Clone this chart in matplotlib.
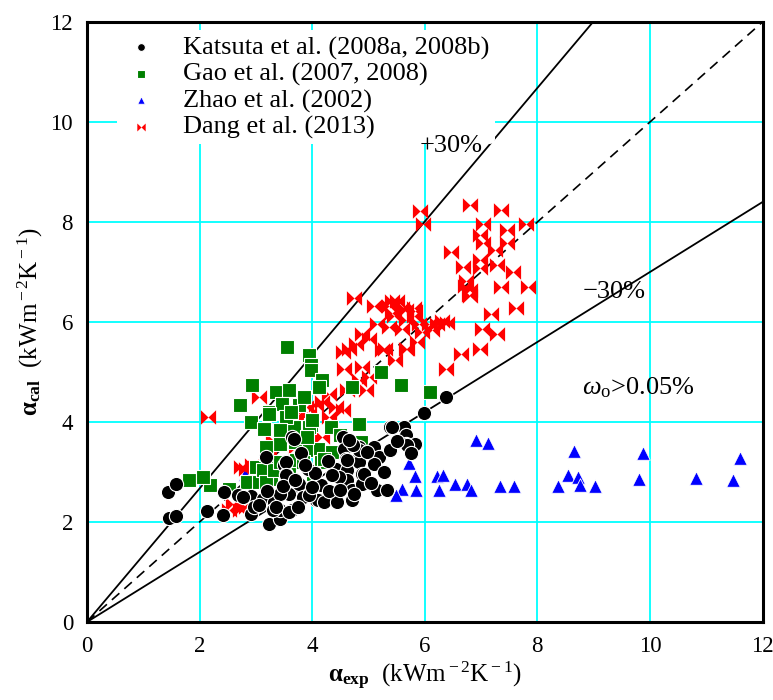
import numpy as np
import matplotlib
matplotlib.use('Agg')
import matplotlib.pyplot as plt
from matplotlib.path import Path

plt.rcParams['font.family'] = ['Liberation Serif', 'DejaVu Serif']
plt.rcParams['mathtext.fontset'] = 'custom'
plt.rcParams['mathtext.rm'] = 'Liberation Serif'
plt.rcParams['mathtext.it'] = 'Liberation Serif:italic'
plt.rcParams['mathtext.bf'] = 'Liberation Serif:bold'

# Katsuta et al. (2008a, 2008b)
kat_x = [1.44, 1.59, 1.46, 1.58, 2.13, 2.44, 2.42, 2.68, 2.91, 2.91, 3.12, 3.18, 3.24, 3.33,
         3.42, 3.42, 3.50, 3.53, 3.59, 3.65, 3.68, 3.77, 3.80, 3.83, 3.92, 4.07, 4.15, 4.24,
         4.42, 4.42, 4.54, 4.57, 4.60, 4.62, 4.62, 4.71, 4.71, 4.83, 4.89, 4.89, 4.83, 5.10,
         5.19, 5.16, 5.33, 5.39, 5.63, 5.66, 5.66, 5.83, 5.98, 6.37, 3.68, 3.53, 3.53, 3.30,
         3.65, 3.42, 4.10, 4.21, 4.45, 4.62, 4.74, 4.83, 4.92, 5.10, 5.39, 5.42, 5.69, 2.97,
         3.05, 3.36, 3.58, 3.75, 3.95, 4.30, 4.48, 4.05, 4.28, 3.88, 3.48, 3.20, 2.78, 4.97,
         4.73, 5.05, 5.28, 4.35, 3.70, 4.00, 4.50, 4.65, 5.50, 5.75]
kat_y = [2.61, 2.77, 2.09, 2.12, 2.23, 2.61, 2.14, 2.54, 2.52, 2.17, 2.47, 3.31, 1.97, 2.41,
         2.07, 2.24, 3.14, 2.97, 2.57, 3.71, 2.27, 2.77, 3.39, 2.51, 3.07, 2.44, 2.74, 2.44,
         2.41, 3.07, 3.71, 3.47, 3.27, 3.04, 2.84, 2.64, 2.44, 3.21, 2.97, 2.77, 3.51, 3.51,
         3.31, 2.64, 2.65, 3.91, 3.91, 3.74, 3.57, 3.57, 4.19, 4.51, 3.67, 3.21, 2.94, 2.24,
         2.24, 2.57, 2.44, 2.41, 2.41, 3.24, 2.57, 3.44, 2.97, 3.17, 3.44, 3.91, 3.54, 2.30,
         2.35, 2.31, 2.20, 2.30, 2.55, 2.62, 2.90, 2.98, 3.22, 3.15, 2.72, 2.62, 2.50, 3.40,
         3.55, 2.78, 3.00, 2.95, 2.85, 2.70, 2.65, 3.65, 3.62, 3.38]

# Gao et al. (2007, 2008)
gao_x = [3.56, 3.95, 3.98, 3.98, 4.18, 2.94, 3.36, 3.59, 2.71, 2.91, 3.24, 3.47, 3.77, 4.12,
         4.71, 5.22, 5.57, 6.10, 3.68, 3.98, 4.33, 4.83, 3.45, 4.10, 4.36, 4.86, 4.15, 3.30,
         3.18, 1.82, 2.18, 2.06, 2.53, 2.85, 3.06, 3.27, 3.59, 3.71, 3.89, 3.00, 3.18, 3.53,
         3.24, 3.15, 3.42, 3.95, 3.42, 3.18, 4.21, 3.12, 3.18, 3.33, 3.83, 4.01, 3.42, 3.85,
         3.62, 4.00, 3.70, 3.90, 4.50]
gao_y = [5.51, 5.34, 5.14, 5.04, 4.84, 4.74, 4.61, 4.64, 4.34, 4.01, 4.21, 4.37, 4.34, 4.71,
         4.71, 5.01, 4.74, 4.61, 3.91, 3.94, 3.91, 3.97, 3.57, 3.47, 3.41, 3.61, 3.21, 3.17,
         3.01, 2.84, 2.74, 2.91, 2.67, 2.81, 2.81, 2.87, 2.97, 3.24, 3.44, 3.11, 3.37, 4.11,
         4.17, 3.87, 3.84, 3.91, 3.57, 3.51, 3.27, 3.04, 2.81, 3.04, 3.21, 2.97, 3.21, 4.50,
         4.20, 4.05, 3.60, 3.70, 3.75]

# Zhao et al. (2002)
zhao_x = [6.91, 7.12, 5.72, 5.83, 6.22, 6.32, 6.54, 6.75, 6.82, 5.60, 5.85, 5.49, 6.25, 7.34,
          7.58, 8.65, 8.55, 8.73, 8.37, 8.75, 9.02, 9.88, 9.81, 10.82, 11.48, 11.60, 2.80,
          3.95, 4.30, 4.33]
zhao_y = [3.64, 3.59, 3.19, 2.93, 2.93, 2.95, 2.76, 2.77, 2.64, 2.67, 2.64, 2.54, 2.64, 2.72,
          2.72, 3.42, 2.95, 2.91, 2.72, 2.74, 2.72, 3.39, 2.87, 2.89, 2.84, 3.29, 2.97,
          2.54, 2.61, 2.57]

# Dang et al. (2013)
dang_x = [5.92, 5.96, 6.80, 7.35, 7.03, 7.46, 7.80, 6.98, 7.04, 7.25, 7.46, 6.47, 6.98, 7.28,
          6.68, 6.98, 7.56, 6.74, 6.80, 6.80, 7.35, 7.84, 7.62, 7.17, 7.02, 7.29, 6.98, 6.65,
          6.37, 5.87, 5.69, 4.74, 5.10, 5.42, 5.60, 5.83, 5.42, 5.66, 6.07, 6.31, 5.16, 5.36,
          4.89, 5.01, 4.77, 4.54, 4.66, 5.24, 5.48, 4.57, 4.89, 5.01, 4.83, 4.62, 4.95, 4.30,
          4.07, 4.18, 4.42, 4.54, 3.89, 3.95, 4.30, 3.71, 2.15, 3.06, 3.30, 3.24, 3.71, 4.18,
          2.74, 2.83, 2.94, 2.59, 2.71, 2.83, 2.53, 2.77, 6.72, 6.78, 5.36, 5.51, 5.66, 5.81,
          5.45, 5.81, 5.89, 6.22, 6.40, 6.13, 5.95, 5.60, 5.66, 5.30]
dang_y = [8.21, 7.96, 8.34, 8.23, 7.95, 7.83, 7.96, 7.74, 7.57, 7.44, 7.57, 7.39, 7.24, 7.14,
          7.09, 7.07, 6.99, 6.82, 6.64, 6.51, 6.69, 6.69, 6.27, 6.16, 5.87, 5.76, 5.47, 5.37,
          5.07, 5.61, 5.47, 6.47, 6.31, 6.41, 6.27, 6.21, 6.17, 6.04, 5.97, 6.01, 5.97, 5.91,
          5.77, 5.67, 5.57, 5.41, 5.47, 5.44, 5.24, 5.07, 5.11, 4.91, 4.84, 4.64, 4.64, 4.57,
          4.34, 4.41, 4.31, 4.24, 4.31, 4.17, 4.11, 4.11, 4.11, 4.51, 3.64, 3.37, 3.51, 3.71,
          3.11, 3.07, 3.14, 2.37, 2.24, 2.31, 2.24, 2.44, 6.71, 6.54, 6.31, 6.41, 6.24, 6.27,
          6.11, 6.11, 5.97, 5.97, 5.99, 5.84, 5.81, 5.87, 5.47, 5.47]

# marker "bowtie"
bowtie = Path([(-1, 0.95), (0, 0), (1, 0.95), (1, -0.95), (0, 0), (-1, -0.95), (-1, 0.95)],
              [Path.MOVETO] + [Path.LINETO] * 5 + [Path.CLOSEPOLY])

fig = plt.figure(figsize=(7.73, 7.0), dpi=100)
ax = fig.add_axes([0.1125, 0.1114, 0.874, 0.8572])

ax.grid(True, color='#00FFFF', linewidth=1.3)
ax.set_axisbelow(True)

# referencni primky
xl = np.array([0, 12])
ax.plot(xl, 1.335 * xl, color='k', linewidth=1.3, zorder=2)
ax.plot(xl, xl, color='k', linewidth=1.2, linestyle=(0, (6, 4)), zorder=2)
ax.plot(xl, 0.7 * xl, color='k', linewidth=1.3, zorder=2)

ax.scatter(zhao_x, zhao_y, marker='^', s=95, color='#0000FF', edgecolors='white',
           linewidths=0.6, zorder=3, label='Zhao et al. (2002)')
ax.scatter(dang_x, dang_y, marker=bowtie, s=120, color='#FF0000', linewidths=0,
           zorder=4, label='Dang et al. (2013)')
ax.scatter(gao_x, gao_y, marker='s', s=105, color='#007F00', edgecolors='white',
           linewidths=0.8, zorder=5, label='Gao et al. (2007, 2008)')
ax.scatter(kat_x, kat_y, marker='o', s=105, color='k', edgecolors='white',
           linewidths=0.8, zorder=6, label='Katsuta et al. (2008a, 2008b)')

h, l = ax.get_legend_handles_labels()
order = [3, 2, 0, 1]
leg = ax.legend([h[i] for i in order], [l[i] for i in order], loc='upper left',
                bbox_to_anchor=(0.025, 1.008), fontsize=19, markerscale=0.55,
                frameon=True, framealpha=1, edgecolor='none', handletextpad=0.9,
                labelspacing=0.1, borderpad=0.2, handlelength=1.4)
leg.set_zorder(7)

ax.text(5.9, 9.4, '+30%', fontsize=19, zorder=8)
ax.text(8.8, 6.48, '\u221230%', fontsize=19, zorder=8)
ax.text(8.8, 4.55, r'$\omega_{\rm o}$>0.05%', fontsize=19, zorder=8)

ax.set_xlim(0, 12)
ax.set_ylim(0, 12)
ax.set_xticks(range(0, 13, 2))
ax.set_yticks(range(0, 13, 2))
ax.tick_params(length=0, labelsize=16.5, pad=10)
for s in ax.spines.values():
    s.set_linewidth(2.2)

ax.set_xlabel(r'$\mathbf{\alpha_{exp}}$  (kWm$^{\rm -2}$K$^{\rm -1}$)', fontsize=18, labelpad=2)
ax.set_ylabel(r'$\mathbf{\alpha_{cal}}$  (kWm$^{\rm -2}$K$^{\rm -1}$)', fontsize=18, labelpad=4)

fig.savefig('out.png', dpi=100)
